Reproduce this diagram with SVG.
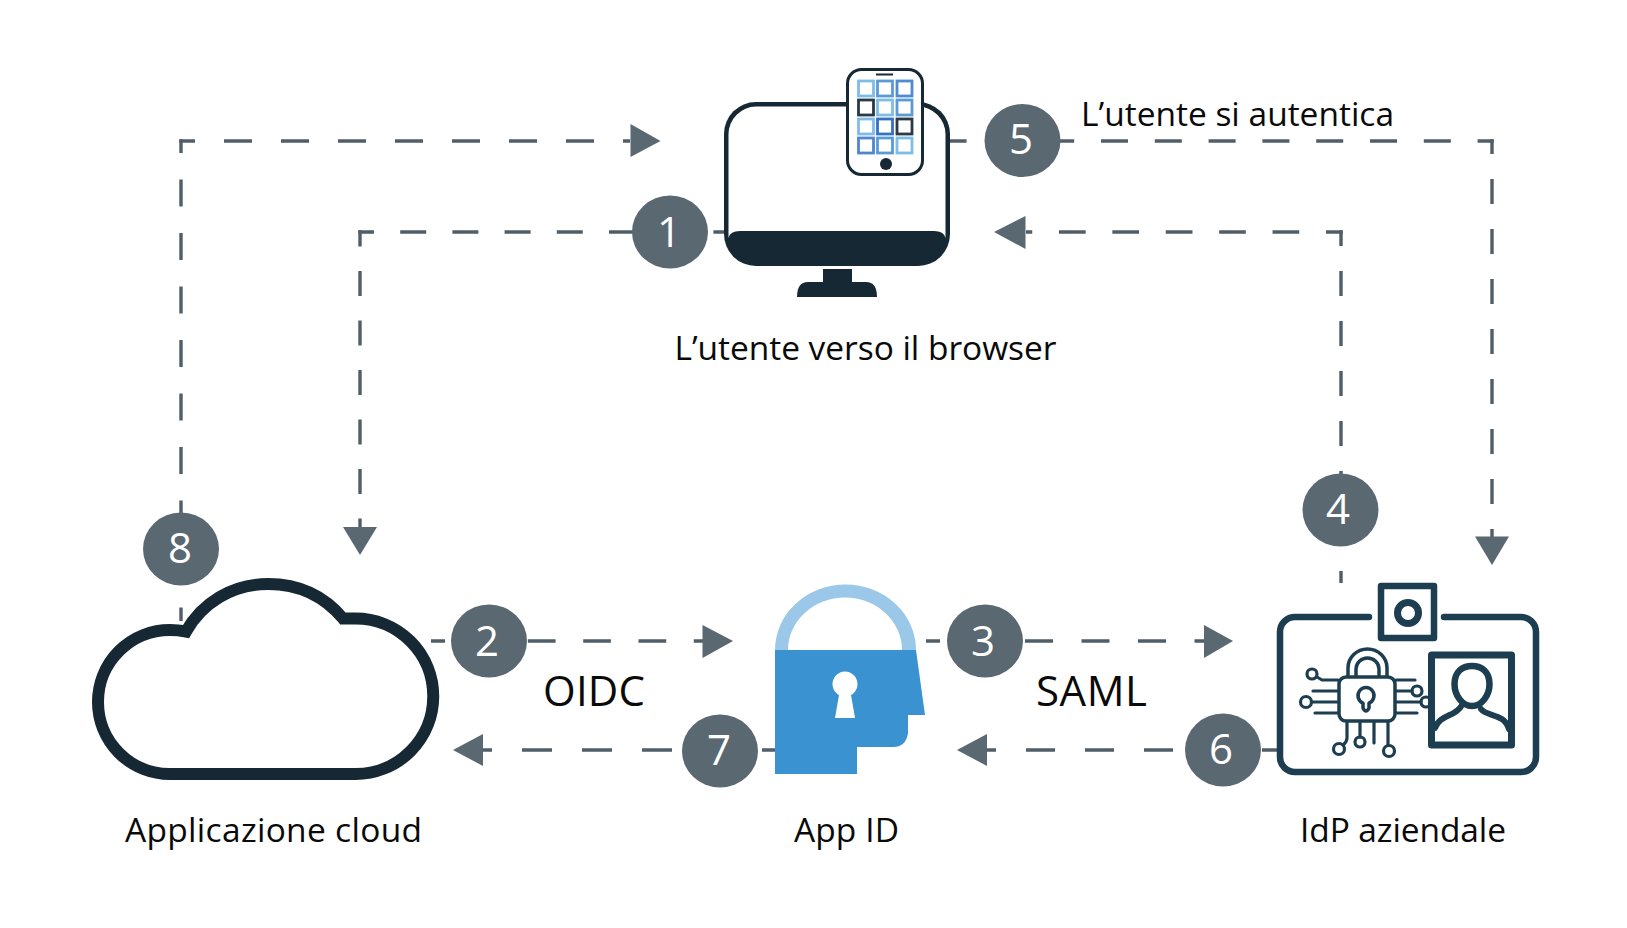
<svg xmlns="http://www.w3.org/2000/svg" width="1627" height="928" viewBox="0 0 1627 928">
<defs>
<style>
text{font-family:"Open Sans","Noto Sans","Liberation Sans",sans-serif;fill:#0a0a0a}
.lbl{font-size:33.5px}
.big{font-size:42px}
.num{font-size:42px;fill:#fff;text-anchor:middle}
.badge{fill:#5a6872}
.conn{fill:none;stroke:#505e6a;stroke-width:3.4}
.head{fill:#5a6872}
.id{fill:none;stroke:#1d3e50;stroke-linecap:round;stroke-linejoin:round}
.thin{fill:none;stroke:#1d3e50;stroke-width:3.2;stroke-linecap:round;stroke-linejoin:round}
.ph{fill:#fff;stroke-width:2.8}
</style>
</defs>
<rect width="1627" height="928" fill="#fff"/>
<g id="connectors">
<path class="conn" stroke-dasharray="28 29" stroke-dashoffset="12.300" d="M179.300 141H630"/>
<path class="conn" stroke-dasharray="27 26.500" stroke-dashoffset="13.300" d="M181 139.300V621"/>
<polygon class="head" points="630.500,124 660.500,141 630.500,157"/>
<path class="conn" stroke-dasharray="26 26.200" stroke-dashoffset="10.300" d="M358.300 232H730"/>
<path class="conn" stroke-dasharray="25 24.500" stroke-dashoffset="8.750" d="M360 230.300V527"/>
<polygon class="head" points="343,527 377,527 360,555"/>
<path class="conn" stroke-dasharray="27 26.800" d="M939.600 141H1493.700"/>
<path class="conn" stroke-dasharray="25 25" stroke-dashoffset="10.250" d="M1492 139.300V537"/>
<polygon class="head" points="1475,536.500 1509,536.500 1492,565"/>
<path class="conn" stroke-dasharray="26.700 26.700" stroke-dashoffset="9.950" d="M1342.700 232H1026"/>
<path class="conn" stroke-dasharray="25 25" stroke-dashoffset="9.250" d="M1341 230.300V583"/>
<polygon class="head" points="1025.500,216 994,232 1025.500,249"/>
<path class="conn" stroke-dasharray="27.700 27.600" stroke-dashoffset="13.700" d="M431 641H703"/>
<polygon class="head" points="702.500,625 733,641 702.500,658"/>
<path class="conn" stroke-dasharray="28 28.500" stroke-dashoffset="14" d="M926 641H1204"/>
<polygon class="head" points="1204,625 1233,641 1204,658"/>
<path class="conn" stroke-dasharray="29 30" stroke-dashoffset="13" d="M1278 750H987"/>
<polygon class="head" points="987,734 957,750 987,766"/>
<path class="conn" stroke-dasharray="30 30" stroke-dashoffset="17" d="M775 750H483"/>
<polygon class="head" points="483,734 453,750 483,766"/>
</g>
<g id="browser">
<rect x="724" y="102" width="226" height="164" rx="32" fill="#162833"/>
<path fill="#fff" d="M728.500 134A28 28 0 0 1 756 106.500H918A28 28 0 0 1 945.500 134V238Q944 231 934 231H740Q730 231 728.500 238Z"/>
<path fill="#162833" d="M823 269H852V282H866Q877 282 877 297H797Q797 282 808 282H823Z"/>
<rect x="847.500" y="69.500" width="75" height="105" rx="14" fill="#fff" stroke="#162833" stroke-width="3"/>
<path d="M876 74.500H893" stroke="#162833" stroke-width="2"/>
<circle cx="886" cy="164" r="6" fill="#162833"/>
<g fill="none">
<rect class="ph" x="858.500" y="81" width="15" height="15" stroke="#7dbde8"/>
<rect class="ph" x="877.500" y="81" width="15" height="15" stroke="#5b9bd5"/>
<rect class="ph" x="897" y="81" width="15" height="15" stroke="#4f8bd0"/>
<rect class="ph" x="858.500" y="100" width="15" height="15" stroke="#2b3a44"/>
<rect class="ph" x="877.500" y="100" width="15" height="15" stroke="#7dbde8"/>
<rect class="ph" x="897" y="100" width="15" height="15" stroke="#5b9bd5"/>
<rect class="ph" x="858.500" y="119" width="15" height="15" stroke="#7dbde8"/>
<rect class="ph" x="877.500" y="119" width="15" height="15" stroke="#3570c4"/>
<rect class="ph" x="897" y="119" width="15" height="15" stroke="#2b3a44"/>
<rect class="ph" x="858.500" y="138" width="15" height="15" stroke="#4f86cf"/>
<rect class="ph" x="877.500" y="138" width="15" height="15" stroke="#5b9bd5"/>
<rect class="ph" x="897" y="138" width="15" height="15" stroke="#7dbde8"/>
</g>
<text class="lbl" x="674.500" y="360" textLength="382">L’utente verso il browser</text>
</g>
<g id="cloud">
<path d="M170 774A72 72 0 0 1 170 630Q178 630 186 631.500C202 603 232 584 268 584C300 584 325 597 343 618.500H355.500A77.750 77.750 0 0 1 355.500 774Z" fill="#fff" stroke="#162833" stroke-width="12" stroke-linejoin="miter"/>
<text class="lbl" x="125" y="842" textLength="297">Applicazione cloud</text>
</g>
<g id="appid">
<path fill="#9bc8e8" d="M775 650A70.500 65.500 0 0 1 916 650H902A57 52.500 0 0 0 788 650Z"/>
<path fill="#3a93d0" d="M775 650H916L925 715H908V733Q906 747 893 747H857V774H775Z"/>
<path fill="#fff" d="M839 695A12.500 12.500 0 1 1 851 695L855 718H835Z"/>
<text class="lbl" x="794" y="842" textLength="105">App ID</text>
</g>
<g id="idp">
<path class="id" stroke-width="6.500" d="M1369 617H1295A15 15 0 0 0 1280 632V757A15 15 0 0 0 1295 772H1521A15 15 0 0 0 1536 757V632A15 15 0 0 0 1521 617H1444"/>
<rect class="id" stroke-width="6.500" x="1381" y="586" width="53" height="52"/>
<circle class="id" stroke-width="7" cx="1408" cy="613" r="10.500"/>
<rect class="id" stroke-width="3.500" x="1339" y="677" width="56" height="44" rx="7"/>
<path class="id" stroke-width="3.500" d="M1348 676V668A19.500 19 0 0 1 1387 668V676M1356 676V669A11.500 11 0 0 1 1379 669V676"/>
<path class="id" stroke-width="3.500" d="M1363 703V708Q1366 714 1369 708V703A8 8 0 1 0 1363 703Z"/>
<path class="thin" d="M1338 680H1322L1317 677M1338 691H1313M1338 702H1312M1338 713H1315M1396 680H1415M1396 691H1412M1396 702H1421M1396 713H1417M1347 722V738Q1347 742 1343 745M1360 722V737M1374 722V743M1388 722V745"/>
<circle class="thin" cx="1312" cy="674" r="5"/>
<circle class="thin" cx="1306" cy="702" r="5.500"/>
<circle class="thin" cx="1417" cy="691" r="5"/>
<circle class="thin" cx="1426" cy="702" r="5"/>
<circle class="thin" cx="1339" cy="749" r="5.500"/>
<circle class="thin" cx="1360" cy="742" r="5"/>
<circle class="thin" cx="1389" cy="751" r="5.500"/>
<rect class="id" fill="#fff" style="fill:#fff" stroke-width="7" x="1431.500" y="655" width="80" height="90"/>
<path class="id" stroke-width="6.500" d="M1472 706C1462 706 1454.500 695 1454.500 684C1454.500 672 1462 666 1472 666C1482 666 1489.500 672 1489.500 684C1489.500 695 1482 706 1472 706Z"/>
<path class="id" stroke-width="6" d="M1435 728C1440 714 1456 717 1462 705M1481 709C1487 717 1504 713 1509 729"/>
<text class="lbl" x="1300" y="842" textLength="206">IdP aziendale</text>
</g>
<g id="badges">
<g id="badge1"><ellipse class="badge" cx="670" cy="232" rx="38" ry="36.500"/><text class="num" x="669" y="247">1</text></g>
<g id="badge2"><ellipse class="badge" cx="489" cy="641" rx="38" ry="36.500"/><text class="num" x="487" y="656">2</text></g>
<g id="badge3"><ellipse class="badge" cx="985" cy="641" rx="38" ry="36.500"/><text class="num" x="983" y="656">3</text></g>
<g id="badge4"><ellipse class="badge" cx="1340.500" cy="510" rx="38" ry="36.500"/><text class="num" x="1338" y="524">4</text></g>
<g id="badge5"><ellipse class="badge" cx="1022.500" cy="140.500" rx="38" ry="36.500"/><text class="num" x="1021" y="154">5</text></g>
<g id="badge6"><ellipse class="badge" cx="1223" cy="750" rx="38" ry="36.500"/><text class="num" x="1221" y="764">6</text></g>
<g id="badge7"><ellipse class="badge" cx="720" cy="751" rx="38" ry="36.500"/><text class="num" x="719" y="765">7</text></g>
<g id="badge8"><ellipse class="badge" cx="181" cy="549" rx="38" ry="36.500"/><text class="num" x="180" y="563">8</text></g>
</g>
<g id="labels">
<text class="lbl" x="1081" y="126" textLength="313">L’utente si autentica</text>
<text class="big" x="543" y="706" textLength="102">OIDC</text>
<text class="big" x="1036" y="706" textLength="111">SAML</text>
</g>
</svg>
